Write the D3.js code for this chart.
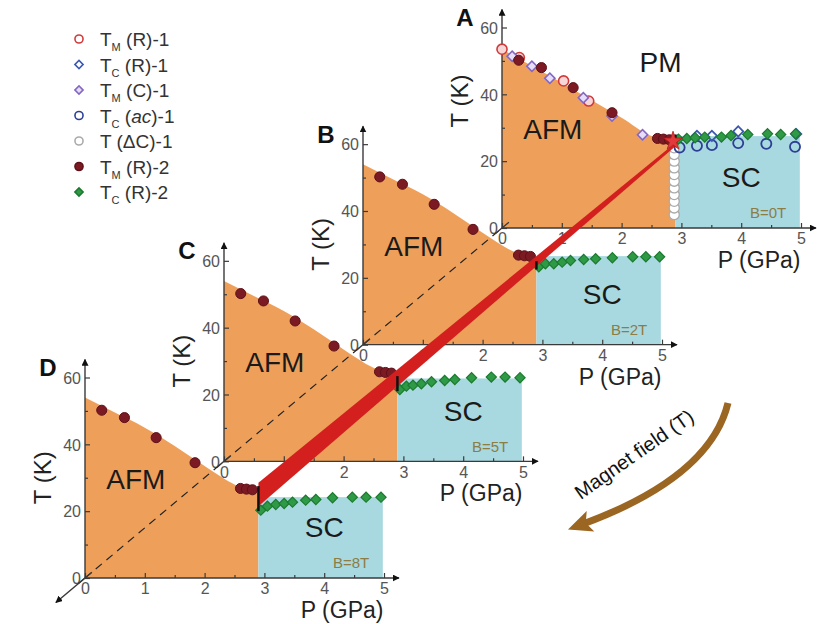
<!DOCTYPE html>
<html>
<head>
<meta charset="utf-8">
<script src="https://cdn.jsdelivr.net/npm/d3@7"></script>
<style>
  body { margin: 0; background: #fff; }
  svg { display: block; font-family: Arial, "Liberation Sans", sans-serif; }
</style>
</head>
<body>
<svg id="chart" width="817" height="624"></svg>
<script>
// panels from back (A) to front (D)
const panels = ['A', 'B', 'C', 'D']
const fieldLabels = ['B=0T', 'B=2T', 'B=5T', 'B=8T']
const pTicks = [0, 1, 2, 3, 4, 5]
const tTicks = [0, 20, 40, 60]
const pMinor = [0.5, 1.5, 2.5, 3.5, 4.5]
const tMinor = [10, 30, 50]

// phase boundaries [P, T]
const afmBoundaryA = [[0, 53.5], [0.5, 48.5], [1, 43.5], [1.5, 38.2], [2, 33], [2.5, 27.5], [2.9, 26]]
const afmBoundary = [[0, 54], [0.5, 49.5], [1, 45], [1.5, 39.5], [2, 33.5], [2.5, 28], [2.9, 25.5]]
const pCrit = 2.9
const pMax = 4.98
const scTop = [27.5, 26.5, 24.8, 24.2]

// black bars at P = 2.9, and the red band ends
const barLo = [24.5, 22.5, 21, 20]
const barHi = [28, 25, 25.5, 27.5]
const bandA = [24.5, 25.5]
const bandD = [21.5, 28.5]
const starA = [2.86, 26]

// series, panel A only
const tmR1 = [[0, 53.5], [0.29, 51], [1.03, 44], [1.45, 38]]
const tcR1 = [[3.26, 27.6], [3.51, 27.6], [3.95, 28.9], [4.92, 28.1]]
const tmC1 = [[0.17, 51.4], [0.5, 48.4], [0.8, 44.8], [1.36, 39], [1.84, 33.5], [2.35, 27.9]]
const tcAc1 = [[2.97, 24.1], [3.26, 24.6], [3.51, 24.8], [3.95, 25.4], [4.42, 25.2], [4.9, 24.3]]
const tdC1 = [[2.88, 4], [2.88, 6], [2.88, 8], [2.88, 10], [2.88, 12], [2.88, 14], [2.88, 16], [2.88, 18], [2.88, 20], [2.88, 22], [2.88, 24]]
// series in every panel
const tmR2 = [[0.28, 50.2], [0.66, 48], [1.19, 42], [1.84, 34.5], [2.6, 26.8], [2.7, 26.6], [2.8, 26.4]]
const tcR2 = [
  [[2.95, 26.6], [3.09, 26.8], [3.23, 27], [3.39, 27.2], [3.67, 27.2], [3.83, 27.7], [4.11, 28], [4.44, 28.2], [4.66, 28], [4.91, 28.2]],
  [[2.94, 23.3], [3.05, 24.2], [3.19, 24.2], [3.33, 24.7], [3.47, 25.2], [3.69, 25.5], [3.89, 25.7], [4.17, 26], [4.51, 26.3], [4.73, 26.3], [4.96, 26.3]],
  [[2.94, 21.5], [3.05, 22.5], [3.16, 22.8], [3.3, 23.2], [3.47, 23.8], [3.69, 24.2], [3.86, 24.5], [4.14, 25], [4.47, 25.2], [4.7, 25.2], [4.95, 25]],
  [[2.94, 20.3], [3.05, 21.5], [3.19, 22], [3.33, 22.3], [3.47, 22.7], [3.69, 23.3], [3.86, 23.5], [4.14, 24], [4.47, 24.2], [4.7, 24.2], [4.95, 24.2]],
]

const ORANGE = '#eea05b'
const BLUE = '#a8d8e0'
const AXIS = '#3a3a3a'
const TICK_TEXT = '#555'

const svg = d3.select('#chart')

// panel origins move along the field axis
const ox = d3.scaleLinear().domain([0, 3]).range([502, 85])
const oy = d3.scaleLinear().domain([0, 3]).range([228, 578])
const x = d3.scaleLinear().domain([0, 5]).range([0, 299])
const y = d3.scaleLinear().domain([0, 60]).range([0, -200.5])
const px = (i, p) => ox(i) + x(p)
const py = (i, t) => oy(i) + y(t)

const defs = svg.append('defs')
defs.append('marker')
  .attr('id', 'arrow')
  .attr('viewBox', '0 0 10 10')
  .attr('refX', 9).attr('refY', 5)
  .attr('markerWidth', 7).attr('markerHeight', 7)
  .attr('markerUnits', 'userSpaceOnUse')
  .attr('orient', 'auto')
  .append('path')
  .attr('d', 'M0,0 L10,5 L0,10 Z')
  .attr('fill', '#111')

const circleSym = d3.symbol().type(d3.symbolCircle).size(80)
const squareSym = d3.symbol().type(d3.symbolSquare).size(52)

function drawMarkers(g, data, shape, fill, stroke, sw) {
  g.append('g')
    .selectAll('path')
    .data(data)
    .enter()
    .append('path')
    .attr('d', shape === 'circle' ? circleSym() : squareSym())
    .attr('transform', (d) => `translate(${x(d[0])},${y(d[1])})` + (shape === 'circle' ? '' : ' rotate(45)'))
    .attr('fill', fill)
    .attr('stroke', stroke)
    .attr('stroke-width', sw)
}

panels.forEach((name, i) => {
  const g = svg.append('g').attr('transform', `translate(${ox(i)},${oy(i)})`)
  const bound = i === 0 ? afmBoundaryA : afmBoundary

  // AFM region
  g.append('path')
    .attr('d', d3.area().x((d) => x(d[0])).y0(y(0)).y1((d) => y(d[1])).curve(d3.curveMonotoneX)(bound))
    .attr('fill', ORANGE)

  // SC region
  g.append('rect')
    .attr('x', x(pCrit))
    .attr('y', y(scTop[i]))
    .attr('width', x(pMax) - x(pCrit))
    .attr('height', y(0) - y(scTop[i]))
    .attr('fill', BLUE)

  // axes
  g.append('g').call(d3.axisBottom(x).tickValues(pTicks).tickSize(-5).tickPadding(5).tickFormat(d3.format('d')))
  g.append('g').call(d3.axisBottom(x).tickValues(pMinor).tickSize(-3).tickFormat(''))
  const yAxis = g.append('g').call(d3.axisLeft(y).tickValues(tTicks).tickSize(-5).tickPadding(4).tickFormat(d3.format('d')))
  g.append('g').call(d3.axisLeft(y).tickValues(tMinor).tickSize(-3).tickFormat(''))
  g.selectAll('.domain').remove()
  g.selectAll('.tick line').attr('stroke', AXIS).attr('stroke-width', 1.2)
  g.selectAll('.tick text').attr('fill', TICK_TEXT).attr('font-size', 16).attr('font-family', 'Arial, "Liberation Sans", sans-serif')
  yAxis.selectAll('.tick text').attr('dy', '0.36em')

  g.append('line')
    .attr('x1', 0).attr('y1', 0).attr('x2', x(5) + 15).attr('y2', 0)
    .attr('stroke', AXIS).attr('stroke-width', 1.4).attr('marker-end', 'url(#arrow)')
  g.append('line')
    .attr('x1', 0).attr('y1', 0).attr('x2', 0).attr('y2', y(60) - 18)
    .attr('stroke', AXIS).attr('stroke-width', 1.4).attr('marker-end', 'url(#arrow)')

  // axis titles
  g.append('text')
    .attr('x', x(4.3)).attr('y', 40)
    .attr('text-anchor', 'middle')
    .attr('font-size', 23).attr('fill', '#222')
    .text('P (GPa)')
  const tTitleY = y(i === 0 ? 38 : 30)
  g.append('text')
    .attr('transform', `translate(-34,${tTitleY}) rotate(-90)`)
    .attr('text-anchor', 'middle')
    .attr('font-size', 24).attr('fill', '#222')
    .text('T (K)')

  // panel letter
  g.append('text')
    .attr('x', -37).attr('y', -202)
    .attr('text-anchor', 'middle')
    .attr('font-size', 24).attr('font-weight', 'bold').attr('fill', '#111')
    .text(name)

  // phase labels
  const label = (txt, p, t, size, color) => g.append('text')
    .attr('x', x(p)).attr('y', y(t))
    .attr('text-anchor', 'middle').attr('dominant-baseline', 'central')
    .attr('font-size', size).attr('fill', color)
    .text(txt)
  label('AFM', 0.85, 29.5, 28, '#1a1a1a')
  label('SC', 4.0, 15, 28, '#1a1a1a')
  if (i === 0) label('PM', 2.65, 49.5, 28, '#1a1a1a')
  label(fieldLabels[i], 4.45, 4.5, 15, '#8c7d45')

  // markers
  if (i === 0) {
    drawMarkers(g, tdC1, 'circle', '#fff', '#aaa', 1.3)
    drawMarkers(g, tmR1, 'circle', '#f6d6d6', '#d23a3a', 1.6)
    drawMarkers(g, tmC1, 'diamond', '#e6def5', '#8466c4', 1.6)
  }
  drawMarkers(g, tmR2, 'circle', '#7c1a24', '#5e1018', 1)
  if (i === 0) {
    drawMarkers(g, tcAc1, 'circle', 'none', '#2c3f95', 1.8)
    drawMarkers(g, tcR1, 'diamond', 'none', '#3a58b0', 1.8)
  }
  drawMarkers(g, tcR2[i], 'diamond', '#2f9a45', '#1c7a30', 1.2)
})

// field axis: dashed through the panels, solid at each origin
const dx = ox(0) - ox(3)
const dy = oy(0) - oy(3)
const len = Math.hypot(dx, dy)
const ux = dx / len
const uy = dy / len
svg.append('line')
  .attr('x1', ox(3)).attr('y1', oy(3)).attr('x2', ox(0)).attr('y2', oy(0))
  .attr('stroke', '#222').attr('stroke-width', 1.2).attr('stroke-dasharray', '8,6')
panels.forEach((name, i) => {
  svg.append('line')
    .attr('x1', ox(i) - 9 * ux).attr('y1', oy(i) - 9 * uy)
    .attr('x2', ox(i) + 9 * ux).attr('y2', oy(i) + 9 * uy)
    .attr('stroke', AXIS).attr('stroke-width', 1.4)
})
svg.append('line')
  .attr('x1', ox(3)).attr('y1', oy(3))
  .attr('x2', ox(3) - 38 * ux).attr('y2', oy(3) - 38 * uy)
  .attr('stroke', AXIS).attr('stroke-width', 1.4).attr('marker-end', 'url(#arrow)')

// red band joining the transition points
const band = [
  [px(3, pCrit), py(3, bandD[1])],
  [px(0, pCrit), py(0, bandA[1])],
  [px(0, pCrit), py(0, bandA[0])],
  [px(3, pCrit), py(3, bandD[0])],
]
svg.append('path')
  .attr('d', d3.line()(band) + 'Z')
  .attr('fill', '#d3201f')

// black bars
panels.forEach((name, i) => {
  svg.append('line')
    .attr('x1', px(i, pCrit)).attr('x2', px(i, pCrit))
    .attr('y1', py(i, barLo[i])).attr('y2', py(i, barHi[i]))
    .attr('stroke', '#111').attr('stroke-width', 2.5)
})

svg.append('path')
  .attr('d', d3.symbol().type(d3.symbolStar).size(110)())
  .attr('transform', `translate(${px(0, starA[0])},${py(0, starA[1])})`)
  .attr('fill', '#e23a3a').attr('stroke', '#b01818').attr('stroke-width', 0.8)

// legend
const legendMain = ['T', 'T', 'T', 'T', 'T (\u0394C)-1', 'T', 'T']
const legendSub = ['M', 'C', 'M', 'C', '', 'M', 'C']
const legendTail = [' (R)-1', ' (R)-1', ' (C)-1', ' (ac)-1', '', ' (R)-2', ' (R)-2']
const legendShapes = ['circle', 'diamond', 'diamond', 'circle', 'circle', 'circle', 'diamond']
const legendFill = ['#fff', '#fff', '#e6def5', '#fff', '#fff', '#7c1a24', '#2f9a45']
const legendStroke = ['#d23a3a', '#3a58b0', '#8466c4', '#2c3f95', '#aaa', '#5e1018', '#1c7a30']

const legend = svg.append('g')
legendMain.forEach((main, k) => {
  const ly = 39 + k * 25.5
  legend.append('path')
    .attr('d', legendShapes[k] === 'circle' ? circleSym() : squareSym())
    .attr('transform', `translate(79,${ly})` + (legendShapes[k] === 'circle' ? ' scale(0.8)' : ' rotate(45) scale(0.8)'))
    .attr('fill', legendFill[k]).attr('stroke', legendStroke[k]).attr('stroke-width', 2)
  const t = legend.append('text')
    .attr('x', 100).attr('y', ly + 7)
    .attr('font-size', 19).attr('fill', '#333')
  t.append('tspan').text(main)
  if (legendSub[k]) {
    t.append('tspan').attr('font-size', 11).attr('dy', 5).text(legendSub[k])
    const tail = legendTail[k]
    if (tail === ' (ac)-1') {
      t.append('tspan').attr('dy', -5).text(' (')
      t.append('tspan').attr('font-style', 'italic').text('ac')
      t.append('tspan').text(')-1')
    } else {
      t.append('tspan').attr('dy', -5).text(tail)
    }
  }
})

// magnet field arrow
const arrowStart = [728, 403]
const arrowCtrl = [710, 477]
const arrowEnd = [583, 524]
const curve = d3.path()
curve.moveTo(arrowStart[0], arrowStart[1])
curve.quadraticCurveTo(arrowCtrl[0], arrowCtrl[1], arrowEnd[0], arrowEnd[1])
svg.append('path')
  .attr('d', curve.toString())
  .attr('fill', 'none').attr('stroke', '#9b6522').attr('stroke-width', 7)
const ang = Math.atan2(arrowEnd[1] - arrowCtrl[1], arrowEnd[0] - arrowCtrl[0]) * 180 / Math.PI
svg.append('path')
  .attr('d', 'M16,0 L-8,-11 L-3,0 L-8,11 Z')
  .attr('transform', `translate(${arrowEnd[0]},${arrowEnd[1]}) rotate(${ang})`)
  .attr('fill', '#9b6522')
svg.append('text')
  .attr('transform', 'translate(638,460) rotate(-35)')
  .attr('text-anchor', 'middle')
  .attr('font-size', 20).attr('fill', '#111')
  .text('Magnet field (T)')
</script>
</body>
</html>
